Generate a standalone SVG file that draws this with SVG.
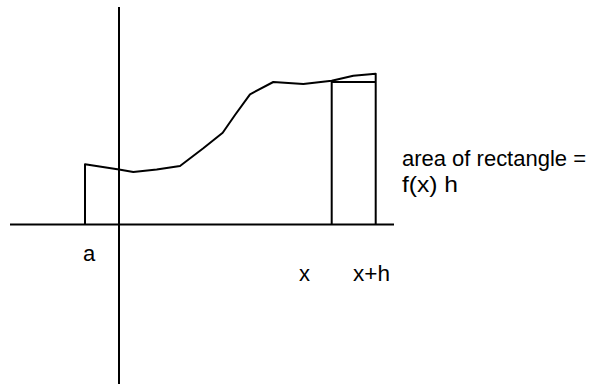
<svg xmlns="http://www.w3.org/2000/svg" width="606" height="385" viewBox="0 0 606 385">
<style>
.ln{fill:none;stroke:#000;stroke-width:2;stroke-linejoin:round}
.t{font-family:"Liberation Sans",Arial,sans-serif;font-size:22px;fill:#000}
</style>
<rect width="606" height="385" fill="#fff"/>
<g id="axes">
<line class="ln" x1="119" y1="7" x2="119" y2="384"/>
<line class="ln" x1="10" y1="224.5" x2="394" y2="224.5"/>
</g>
<g id="curve">
<polyline class="ln" points="85,224.5 85,164.3 119,169.5 133.3,172 156.7,169.5 180,166 203.3,148.3 222.7,132.7 235,115 250,94.3 273.3,82 303.3,84 331.7,80.7 353.3,75.7 375.7,73.7 375.7,224.5"/>
</g>
<g id="rectangle">
<polyline class="ln" points="331.7,224.5 331.7,82 375.7,82"/>
</g>
<g id="labels">
<text class="t" x="402" y="166" textLength="184" lengthAdjust="spacingAndGlyphs">area of rectangle =</text>
<text class="t" x="402" y="192" textLength="56" lengthAdjust="spacingAndGlyphs">f(x) h</text>
<text class="t" x="83" y="261">a</text>
<text class="t" x="299" y="281">x</text>
<text class="t" x="353" y="281" textLength="37" lengthAdjust="spacingAndGlyphs">x+h</text>
</g>
</svg>
